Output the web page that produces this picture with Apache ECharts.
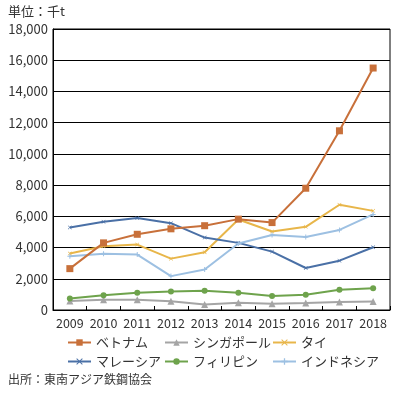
<!DOCTYPE html>
<html><head><meta charset="utf-8">
<script src="https://cdn.jsdelivr.net/npm/echarts@6/dist/echarts.min.js"></script>
<style>html,body{margin:0;padding:0;background:#fff;}#c{width:399px;height:397px;}</style>
</head><body><div id="c"></div>
<script>
const years = ['2009','2010','2011','2012','2013','2014','2015','2016','2017','2018'];
const vietnam   = [2650, 4300, 4850, 5200, 5400, 5820, 5600, 7800, 11480, 15500];
const singapore = [580, 660, 660, 560, 360, 460, 400, 450, 520, 540];
const thailand  = [3620, 4080, 4190, 3290, 3700, 5800, 5030, 5330, 6740, 6350];
const malaysia  = [5290, 5650, 5900, 5560, 4640, 4300, 3740, 2690, 3160, 4020];
const philippines = [740, 950, 1110, 1190, 1240, 1110, 890, 980, 1300, 1390];
const indonesia = [3440, 3610, 3550, 2170, 2590, 4260, 4810, 4680, 5130, 6120];
const names = ['ベトナム','シンガポール','タイ','マレーシア','フィリピン','インドネシア'];
const yTicks = [0,2000,4000,6000,8000,10000,12000,14000,16000,18000];

const font = '"Noto Sans CJK JP", "Noto Sans", sans-serif';
const colors = ['#C8703A','#A5A5A5','#E8B64A','#4A70A6','#6EA34C','#9DC0E2'];
const plus = 'path://M4,0H6V4H10V6H6V10H4V6H0V4H4Z';
const cross = 'path://M1,0L5,4L9,0L10,1L6,5L10,9L9,10L5,6L1,10L0,9L4,5L0,1Z';
const symbols = ['rect','triangle',cross,cross,'circle',plus];
const sizes = [7,7,4,4,6,5];
const datas = [vietnam, singapore, thailand, malaysia, philippines, indonesia];

const legendPos = [[67,336],[164,336],[272,336],[67,355],[164,355],[272,355]];
const legends = names.map((n,i)=>({
  data:[n], left:legendPos[i][0], top:legendPos[i][1], orient:'horizontal',
  itemWidth:23, itemHeight:8, itemGap:0, padding:0,
  textStyle:{fontFamily:font, fontSize:13, color:'#333', padding:[0,0,0,0]}
}));

const chart = echarts.init(document.getElementById('c'), null, {renderer:'canvas'});
chart.setOption({
  animation:false,
  backgroundColor:'#fff',
  color:colors,
  graphic:[
    {type:'text', left:8, top:5, style:{text:'単位：千t', font:'13px '+font, fill:'#333'}},
    {type:'text', left:8, top:373, style:{text:'出所：東南アジア鉄鋼協会', font:'12px '+font, fill:'#333'}}
  ],
  legend:legends,
  grid:{left:53, right:9, top:29, bottom:87, show:true, borderColor:'#000', borderWidth:1, backgroundColor:'transparent'},
  xAxis:{type:'category', data:years, boundaryGap:true,
    axisLine:{lineStyle:{color:'#000', width:1}},
    axisTick:{show:true, inside:true, length:4, lineStyle:{color:'#000'}},
    axisLabel:{fontFamily:font, fontSize:12.5, color:'#333', margin:7, interval:0, hideOverlap:false}
  },
  yAxis:{type:'value', min:0, max:18000, interval:2000,
    axisLine:{show:true, lineStyle:{color:'#000'}},
    axisTick:{show:false},
    splitLine:{lineStyle:{color:'#000', width:1}},
    axisLabel:{fontFamily:font, fontSize:13, color:'#333', margin:5,
      formatter:v=>v.toLocaleString('en-US')}
  },
  series:names.map((n,i)=>({
    name:n, type:'line', data:datas[i], symbol:symbols[i], symbolSize:sizes[i],
    showSymbol:true, lineStyle:{width:2, color:colors[i]}, itemStyle:{color:colors[i]}, z:i===0?10:2
  }))
});
</script></body></html>
